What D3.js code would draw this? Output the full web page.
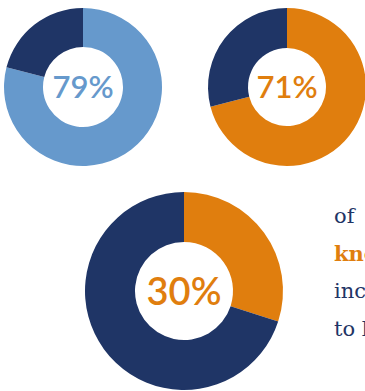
<!DOCTYPE html>
<html><head><meta charset="utf-8">
<script src="https://cdn.jsdelivr.net/npm/d3@7"></script>
<style>html,body{margin:0;padding:0;background:#fff;overflow:hidden}svg{display:block}</style>
</head><body>
<script>
const labels = ["79%", "71%", "30%"];
const values = [79, 71, 30];
const mainColors = ["#6699cc", "#e07e0e", "#e07e0e"];
const restColor = "#1f3566";
const textLines = ["of", "knowledge", "increase", "to learn"];

const W = 365, H = 391;
const svg = d3.select("body").append("svg").attr("width", W).attr("height", H);

const layout = [
  {cx: 83, cy: 87, r: 79, ir: 40, fs: 31},
  {cx: 287, cy: 87, r: 79, ir: 39, fs: 31},
  {cx: 184, cy: 291, r: 99, ir: 49, fs: 38}
];

const pie = d3.pie().sort(null).value(d => d.v);

values.forEach((v, i) => {
  const L = layout[i];
  const g = svg.append("g").attr("transform", `translate(${L.cx},${L.cy})`);
  const arc = d3.arc().innerRadius(L.ir).outerRadius(L.r);
  const data = [{v: v, c: mainColors[i]}, {v: 100 - v, c: restColor}];
  g.selectAll("path").data(pie(data)).join("path")
    .attr("d", arc).attr("fill", d => d.data.c);
  g.append("text").text(labels[i])
    .attr("text-anchor", "middle").attr("dy", "0.37em")
    .attr("font-family", "Lato, 'Open Sans', sans-serif")
    .attr("font-weight", 600)
    .attr("font-size", L.fs)
    .attr("fill", mainColors[i]);
});

const tx = 334, ty0 = 223, lh = 37.5;
textLines.forEach((t, i) => {
  svg.append("text").text(t)
    .attr("x", tx).attr("y", ty0 + i * lh)
    .attr("font-family", "'DejaVu Serif', serif")
    .attr("font-size", 21)
    .attr("font-weight", i === 1 ? "bold" : "normal")
    .attr("fill", i === 1 ? "#e07e0e" : "#1f3566");
});
</script>
</body></html>
